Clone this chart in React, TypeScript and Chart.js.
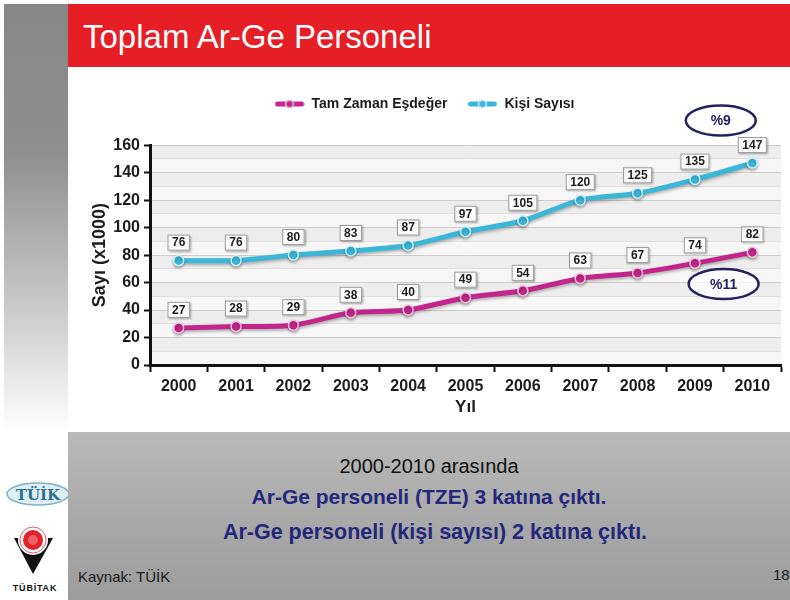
import React, { useEffect, useRef } from 'react';
import { Chart, registerables } from 'chart.js';

Chart.register(...registerables);

const years = ['2000', '2001', '2002', '2003', '2004', '2005', '2006', '2007', '2008', '2009', '2010'];
const tzeValues = [27, 28, 29, 38, 40, 49, 54, 63, 67, 74, 82];
const kisiValues = [76, 76, 80, 83, 87, 97, 105, 120, 125, 135, 147];
const seriesNames = ['Tam Zaman Eşdeğer', 'Kişi Sayısı'];
const seriesColors = ['#c2268c', '#3cb6d8'];
const seriesRings = ['#f3c0de', '#c9f0fa'];
const yMin = 0;
const yMax = 160;
const yStep = 10;
const yLabelStep = 20;
const growthNotes = [
  { text: '%9', index: 9.45, value: 178 },
  { text: '%11', index: 9.5, value: 59 },
];

const FONT = '"Liberation Sans", Arial, sans-serif';

function makeMarker(color: string, ring: string) {
  const c = document.createElement('canvas');
  c.width = 30;
  c.height = 10;
  const g = c.getContext('2d')!;
  g.strokeStyle = color;
  g.lineWidth = 5;
  g.lineCap = 'round';
  g.beginPath();
  g.moveTo(3, 5);
  g.lineTo(27, 5);
  g.stroke();
  g.beginPath();
  g.arc(15, 5, 3.8, 0, Math.PI * 2);
  g.fillStyle = color;
  g.fill();
  g.lineWidth = 1.5;
  g.strokeStyle = ring;
  g.stroke();
  return c;
}

const bandsPlugin = {
  id: 'bands',
  beforeDraw(chart: any) {
    const { ctx, chartArea } = chart;
    const y = chart.scales.y;
    ctx.save();
    ctx.fillStyle = '#f6f6f6';
    ctx.fillRect(chartArea.left, chartArea.top, chartArea.right - chartArea.left, chartArea.bottom - chartArea.top);
    for (let v = yMin; v < yMax; v += yStep) {
      if ((v / yStep) % 2 === 1) {
        const y1 = y.getPixelForValue(v);
        const y2 = y.getPixelForValue(v + yStep);
        ctx.fillStyle = '#ededed';
        ctx.fillRect(chartArea.left, y2, chartArea.right - chartArea.left, y1 - y2);
      }
    }
    ctx.restore();
  },
};

const shadowPlugin = {
  id: 'lineShadow',
  beforeDatasetDraw(chart: any) {
    const ctx = chart.ctx;
    ctx.save();
    ctx.shadowColor = 'rgba(0,0,0,0.28)';
    ctx.shadowBlur = 3;
    ctx.shadowOffsetY = 2;
  },
  afterDatasetDraw(chart: any) {
    chart.ctx.restore();
  },
};

const valueBoxPlugin = {
  id: 'valueBoxes',
  afterDatasetsDraw(chart: any) {
    const ctx = chart.ctx;
    ctx.save();
    ctx.font = `bold 12px ${FONT}`;
    ctx.textAlign = 'center';
    ctx.textBaseline = 'middle';
    chart.data.datasets.forEach((ds: any, di: number) => {
      const meta = chart.getDatasetMeta(di);
      meta.data.forEach((pt: any, i: number) => {
        const text = String(ds.data[i]);
        const w = ctx.measureText(text).width + 9;
        const h = 16;
        const cx = pt.x;
        const cy = pt.y - 18;
        ctx.save();
        ctx.shadowColor = 'rgba(0,0,0,0.35)';
        ctx.shadowBlur = 2;
        ctx.shadowOffsetX = 1;
        ctx.shadowOffsetY = 1;
        ctx.fillStyle = '#fbfbfb';
        ctx.fillRect(cx - w / 2, cy - h / 2, w, h);
        ctx.restore();
        ctx.strokeStyle = '#9a9a9a';
        ctx.lineWidth = 1;
        ctx.strokeRect(cx - w / 2 + 0.5, cy - h / 2 + 0.5, w - 1, h - 1);
        ctx.fillStyle = '#1c1c1c';
        ctx.fillText(text, cx, cy + 0.5);
      });
    });
    ctx.restore();
  },
};

const notesPlugin = {
  id: 'growthNotes',
  afterDraw(chart: any) {
    const ctx = chart.ctx;
    const xs = chart.scales.x;
    const ys = chart.scales.y;
    ctx.save();
    growthNotes.forEach((n) => {
      const cx = xs.getPixelForValue(n.index);
      const cy = ys.getPixelForValue(n.value);
      ctx.beginPath();
      ctx.ellipse(cx, cy, 35, 15, 0, 0, Math.PI * 2);
      ctx.fillStyle = 'rgba(255,255,255,0.75)';
      ctx.fill();
      ctx.lineWidth = 2.5;
      ctx.strokeStyle = '#23215e';
      ctx.stroke();
      ctx.font = `bold 14px ${FONT}`;
      ctx.fillStyle = '#23215e';
      ctx.textAlign = 'center';
      ctx.textBaseline = 'middle';
      ctx.fillText(n.text, cx, cy + 1);
    });
    ctx.restore();
  },
};

function ChartBox() {
  const ref = useRef<HTMLCanvasElement>(null);
  useEffect(() => {
    if (!ref.current) return;
    const markers = [makeMarker(seriesColors[0], seriesRings[0]), makeMarker(seriesColors[1], seriesRings[1])];
    const chart = new Chart(ref.current, {
      type: 'line',
      data: {
        labels: years,
        datasets: [
          {
            label: seriesNames[0],
            data: tzeValues,
            borderColor: seriesColors[0],
            backgroundColor: seriesColors[0],
            borderWidth: 5,
            tension: 0.25,
            pointRadius: 5,
            pointBackgroundColor: seriesColors[0],
            pointBorderColor: seriesRings[0],
            pointBorderWidth: 1.5,
          },
          {
            label: seriesNames[1],
            data: kisiValues,
            borderColor: seriesColors[1],
            backgroundColor: seriesColors[1],
            borderWidth: 5,
            tension: 0.25,
            pointRadius: 5,
            pointBackgroundColor: seriesColors[1],
            pointBorderColor: seriesRings[1],
            pointBorderWidth: 1.5,
          },
        ],
      },
      options: {
        responsive: false,
        animation: false,
        layout: { padding: { left: 0, right: 9, top: 7, bottom: 0 } },
        plugins: {
          legend: {
            display: true,
            position: 'top',
            weight: 3000,
            labels: {
              usePointStyle: true,
              pointStyleWidth: 30,
              padding: 20,
              color: '#1c1c1c',
              font: { family: FONT, size: 14, weight: 'bold' },
              generateLabels: (c: any) =>
                Chart.defaults.plugins.legend.labels.generateLabels(c).map((l: any, i: number) => ({
                  ...l,
                  pointStyle: markers[i],
                })),
            },
          },
          subtitle: {
            display: true,
            text: ' ',
            position: 'top',
            weight: 1500,
            font: { size: 1 },
            padding: { top: 0, bottom: 23 },
          },
          title: { display: false },
          tooltip: { enabled: false },
        },
        scales: {
          x: {
            offset: true,
            afterFit: (s: any) => {
              s.height = 67;
            },
            grid: {
              offset: true,
              drawOnChartArea: false,
              color: 'transparent',
              tickColor: '#111',
              tickLength: 7,
              tickWidth: 2,
            },
            border: { color: '#111', width: 3 },
            ticks: {
              color: '#1c1c1c',
              font: { family: FONT, size: 16, weight: 'bold' },
              padding: 5,
              autoSkip: false,
              maxRotation: 0,
            },
            title: {
              display: true,
              text: 'Yıl',
              color: '#1c1c1c',
              font: { family: FONT, size: 17, weight: 'bold' },
              padding: { top: 0, bottom: 14 },
            },
          },
          y: {
            min: yMin,
            max: yMax,
            afterFit: (s: any) => {
              s.width = 82;
            },
            grid: {
              color: (c: any) => (c.tick && c.tick.value % yLabelStep === 0 ? '#d2cbc5' : '#e2dfdc'),
              tickColor: (c: any) => (c.tick && c.tick.value % yLabelStep === 0 ? '#111' : 'transparent'),
              tickLength: 6,
              tickWidth: 2,
              lineWidth: 1,
            },
            border: { color: '#111', width: 3 },
            ticks: {
              stepSize: yStep,
              autoSkip: false,
              color: '#1c1c1c',
              padding: 4,
              font: { family: FONT, size: 16, weight: 'bold' },
              callback: (v: any) => (Number(v) % yLabelStep === 0 ? String(v) : ''),
            },
            title: {
              display: true,
              text: 'Sayı (x1000)',
              color: '#1c1c1c',
              font: { family: FONT, size: 18, weight: 'bold' },
              padding: { top: 21, bottom: 0 },
            },
          },
        },
      } as any,
      plugins: [bandsPlugin, shadowPlugin, valueBoxPlugin, notesPlugin],
    });
    return () => chart.destroy();
  }, []);
  return <canvas ref={ref} width={722} height={362} style={{ position: 'absolute', left: 68, top: 70 }} />;
}

function Logos() {
  return (
    <svg width={68} height={130} style={{ position: 'absolute', left: 0, top: 470 }}>
      <ellipse cx={38} cy={24} rx={31} ry={11} fill="#dfeef5" stroke="#7eb1c9" strokeWidth={1.5} />
      <text x={38} y={30} textAnchor="middle" fontFamily='"DejaVu Serif", "Liberation Serif", serif' fontWeight="bold" fontSize={15} fill="#2b6e8e">
        TÜİK
      </text>
      <polygon points="14,68 53,68 33,104" fill="#111" />
      <circle cx={33} cy={70} r={15} fill="#fff" />
      <circle cx={33} cy={70} r={13} fill="none" stroke="#e0606a" strokeWidth={1} />
      <circle cx={33} cy={70} r={10} fill="#e52229" />
      <circle cx={33} cy={70} r={5} fill="#f4a0a4" opacity={0.5} />
      <text x={35} y={121} textAnchor="middle" fontFamily={FONT} fontWeight="bold" fontSize={9} fill="#111" letterSpacing={0.8}>
        TÜBİTAK
      </text>
    </svg>
  );
}

export default function App() {
  return (
    <div
      style={{
        position: 'fixed',
        left: 0,
        top: 0,
        width: 790,
        height: 600,
        background: '#ffffff',
        overflow: 'hidden',
        fontFamily: FONT,
      }}
    >
      <div
        style={{
          position: 'absolute',
          left: 4,
          top: 4,
          width: 64,
          height: 428,
          background: 'linear-gradient(to bottom, #868686 0%, #8f8f8f 35%, #c8c8c8 70%, #ffffff 100%)',
        }}
      />
      <div
        style={{
          position: 'absolute',
          left: 68,
          top: 4,
          width: 722,
          height: 63,
          background: '#e61e26',
        }}
      >
        <div
          style={{
            position: 'absolute',
            left: 15,
            top: 14,
            color: '#ffffff',
            fontSize: 33,
            lineHeight: '38px',
            whiteSpace: 'nowrap',
          }}
        >
          Toplam Ar-Ge Personeli
        </div>
      </div>
      <div
        style={{
          position: 'absolute',
          left: 68,
          top: 432,
          width: 722,
          height: 168,
          background: 'linear-gradient(to bottom, #b9b9b9 0%, #a6a6a6 60%, #9d9d9d 100%)',
        }}
      >
        <div style={{ position: 'absolute', left: 0, width: 722, top: 22, textAlign: 'center', fontSize: 20, lineHeight: '24px', color: '#111' }}>
          2000-2010 arasında
        </div>
        <div style={{ position: 'absolute', left: 0, width: 722, top: 53, textAlign: 'center', fontSize: 21, fontWeight: 'bold', lineHeight: '24px', color: '#23287c' }}>
          Ar-Ge personeli (TZE) 3 katına çıktı.
        </div>
        <div style={{ position: 'absolute', left: 6, width: 722, top: 88, textAlign: 'center', fontSize: 21.5, fontWeight: 'bold', lineHeight: '24px', color: '#23287c' }}>
          Ar-Ge personeli (kişi sayısı) 2 katına çıktı.
        </div>
        <div style={{ position: 'absolute', left: 10, top: 136, fontSize: 15, lineHeight: '18px', color: '#1a1a1a' }}>Kaynak: TÜİK</div>
        <div style={{ position: 'absolute', left: 705, top: 134, fontSize: 15, lineHeight: '18px', color: '#1a1a1a' }}>18</div>
      </div>
      <Logos />
      <ChartBox />
    </div>
  );
}
